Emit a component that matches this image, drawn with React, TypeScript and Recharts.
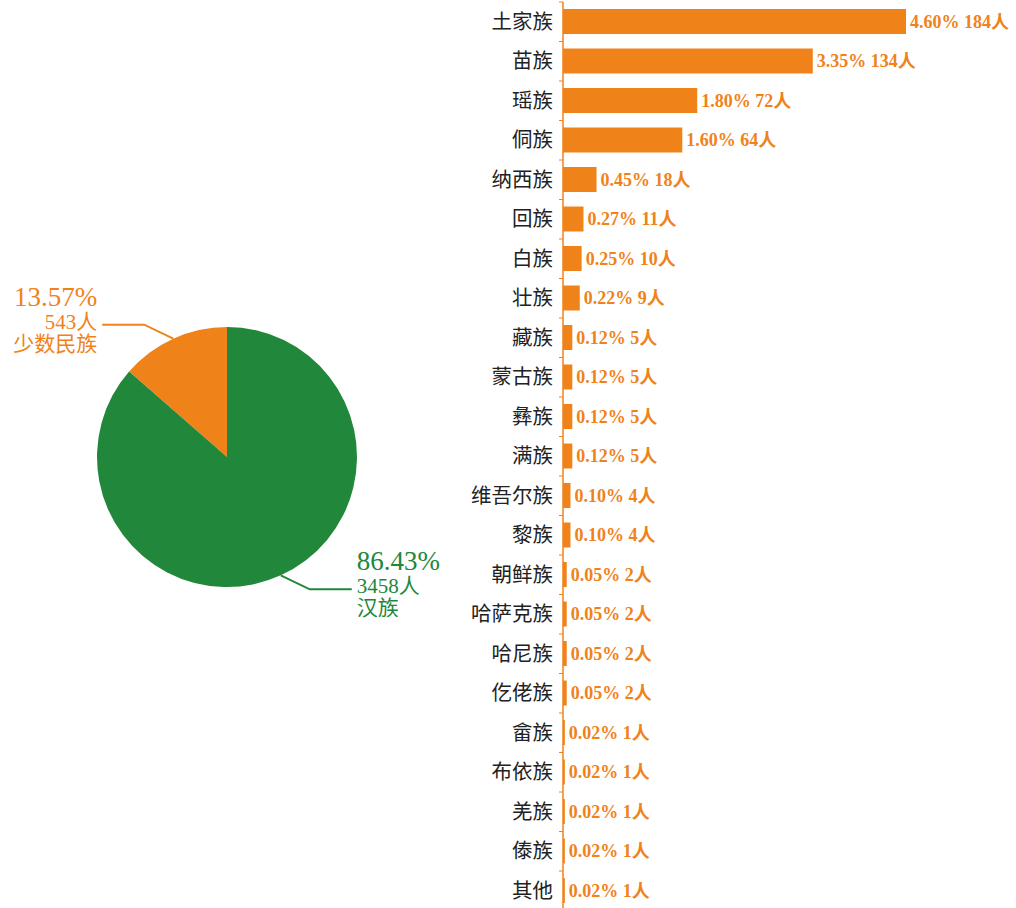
import React from "react";
import { PieChart, Pie, Cell, BarChart, Bar, XAxis, YAxis, LabelList } from "recharts";

const ORANGE = "#F0821A";
const GREEN = "#21873A";
const FONT = '"Liberation Serif", "Noto Sans CJK SC", serif';

// 汉族 / 少数民族
const groupNames = ["少数民族", "汉族"];
const groupCounts = [543, 3458];
const groupPercents = ["13.57%", "86.43%"];
const groupColors = [ORANGE, GREEN];

// 少数民族明细
const ethnicNames = [
  "土家族", "苗族", "瑶族", "侗族", "纳西族", "回族", "白族", "壮族", "藏族", "蒙古族", "彝族", "满族",
  "维吾尔族", "黎族", "朝鲜族", "哈萨克族", "哈尼族", "仡佬族", "畲族", "布依族", "羌族", "傣族", "其他",
];
const ethnicCounts = [184, 134, 72, 64, 18, 11, 10, 9, 5, 5, 5, 5, 4, 4, 2, 2, 2, 2, 1, 1, 1, 1, 1];
const ethnicPercents = [
  "4.60%", "3.35%", "1.80%", "1.60%", "0.45%", "0.27%", "0.25%", "0.22%", "0.12%", "0.12%", "0.12%", "0.12%",
  "0.10%", "0.10%", "0.05%", "0.05%", "0.05%", "0.05%", "0.02%", "0.02%", "0.02%", "0.02%", "0.02%",
];

const pieData = groupNames.map((name, i) => ({ name, value: groupCounts[i] }));
const barData = ethnicNames.map((name, i) => ({
  name,
  value: ethnicCounts[i],
  label: `${ethnicPercents[i]} ${ethnicCounts[i]}人`,
}));

const BAR_H = 912;
const BAR_MARGIN = { top: 2, right: 110, bottom: 1.5, left: 0 };
const STEP = (BAR_H - BAR_MARGIN.top - BAR_MARGIN.bottom) / ethnicNames.length;
const RAD = Math.PI / 180;

function PieLabel(props: any) {
  const { cx, cy, midAngle, outerRadius, index } = props;
  const cos = Math.cos(-midAngle * RAD);
  const sin = Math.sin(-midAngle * RAD);
  const sx = cx + outerRadius * cos;
  const sy = cy + outerRadius * sin;
  const dir = cos >= 0 ? 1 : -1;
  const mx = sx + dir * 29;
  const my = sy + (sin >= 0 ? 14 : -14);
  const ex = mx + dir * 42;
  const tx = ex + dir * 5;
  const color = groupColors[index];
  const anchor = dir > 0 ? "start" : "end";
  return (
    <g fontFamily={FONT} fill={color}>
      <polyline points={`${sx},${sy} ${mx},${my} ${ex},${my}`} fill="none" stroke={color} strokeWidth={2} />
      <text x={tx} y={my - 19} fontSize={27} textAnchor={anchor}>{groupPercents[index]}</text>
      <text x={tx} y={my + 4} fontSize={21} textAnchor={anchor}>{groupCounts[index]}人</text>
      <text x={tx} y={my + 26} fontSize={21} textAnchor={anchor}>{groupNames[index]}</text>
    </g>
  );
}

function CategoryTick(props: any) {
  const { x, y, payload } = props;
  return (
    <g>
      <line x1={x - 4} x2={x} y1={y - STEP / 2} y2={y - STEP / 2} stroke={ORANGE} strokeWidth={1} />
      <text x={x - 10} y={y} textAnchor="end" dominantBaseline="central" fontSize={20.5} fill="#222" fontFamily={FONT}>
        {payload.value}
      </text>
    </g>
  );
}

export default function App() {
  return (
    <div style={{ position: "absolute", left: 0, top: 0, width: 1016, height: 908, overflow: "hidden", background: "#fff" }}>
      <div style={{ position: "absolute", left: 0, top: 0 }}>
        <PieChart width={460} height={908} margin={{ top: 0, right: 0, bottom: 0, left: 0 }}>
          <Pie
            data={pieData}
            dataKey="value"
            cx={227}
            cy={457}
            outerRadius={130}
            startAngle={90}
            endAngle={450}
            stroke="none"
            label={PieLabel}
            labelLine={false}
            isAnimationActive={false}
          >
            {pieData.map((d, i) => (
              <Cell key={d.name} fill={groupColors[i]} />
            ))}
          </Pie>
        </PieChart>
      </div>
      <div style={{ position: "absolute", left: 460, top: 0 }}>
        <BarChart width={556} height={BAR_H} data={barData} layout="vertical" margin={BAR_MARGIN}>
          <XAxis type="number" domain={[0, 184]} hide allowDataOverflow />
          <YAxis
            type="category"
            dataKey="name"
            width={103}
            axisLine={{ stroke: ORANGE, strokeWidth: 1.5 }}
            tickLine={false}
            tickSize={0}
            tickMargin={0}
            interval={0}
            tick={CategoryTick}
          />
          <Bar dataKey="value" fill={ORANGE} barSize={25} isAnimationActive={false}>
            <LabelList
              dataKey="label"
              position="right"
              offset={4}
              fill={ORANGE}
              fontSize={18}
              fontWeight="bold"
              fontFamily={FONT}
            />
          </Bar>
        </BarChart>
      </div>
    </div>
  );
}
